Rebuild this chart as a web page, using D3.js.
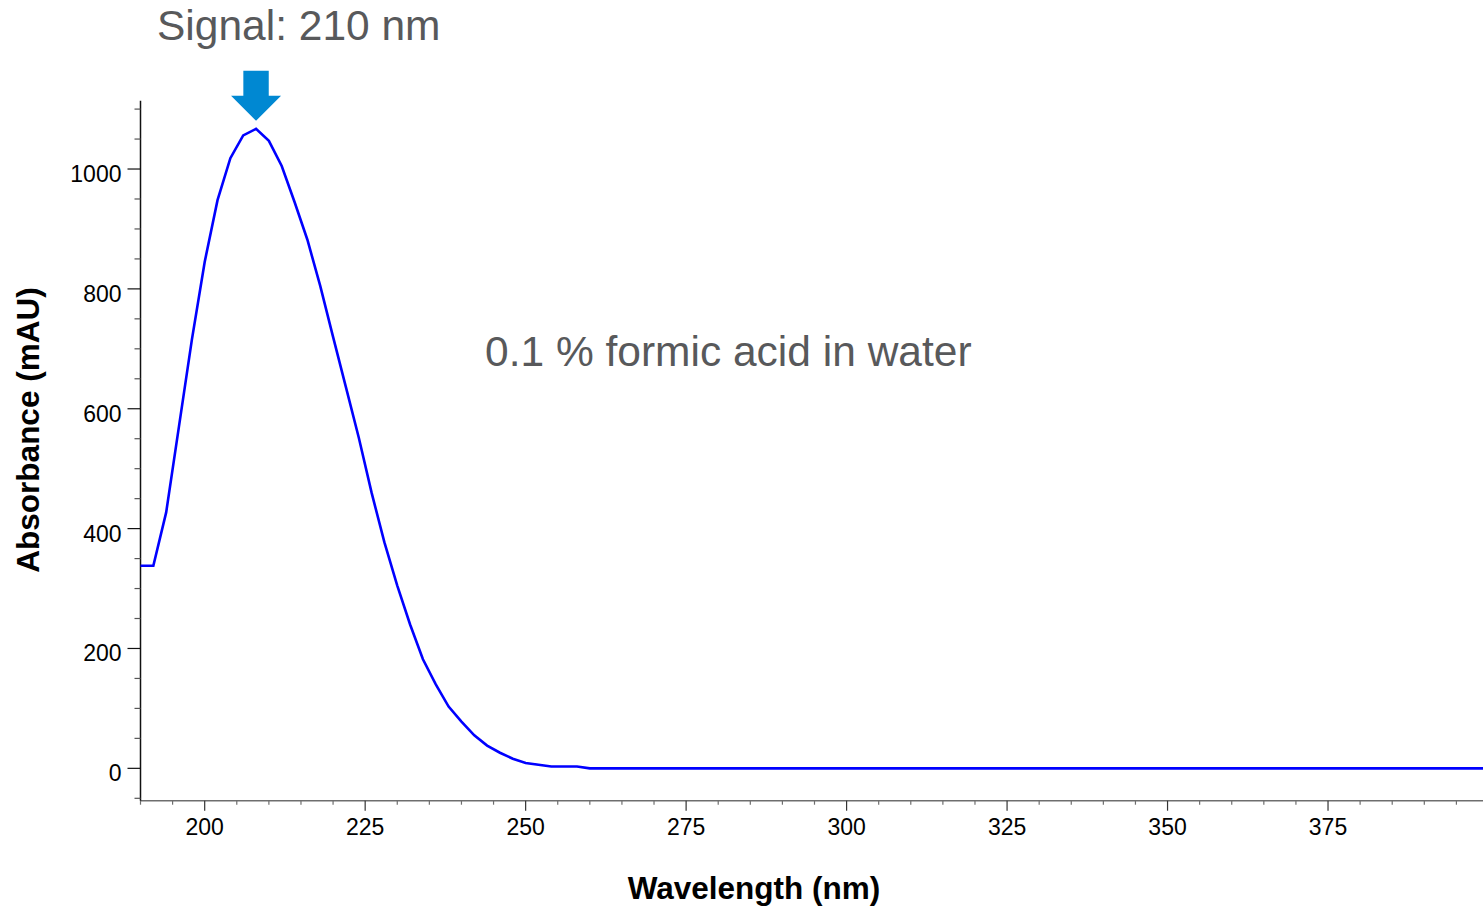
<!DOCTYPE html>
<html>
<head>
<meta charset="utf-8">
<script src="https://cdn.jsdelivr.net/npm/d3@7"></script>
<style>
  html, body { margin: 0; padding: 0; background: #ffffff; }
  svg { display: block; font-family: "Liberation Sans", Arial, sans-serif; }
</style>
</head>
<body>
<svg id="chart" width="1483" height="908"></svg>
<script>
// UV absorbance spectrum of 0.1 % formic acid in water
const wavelengths = [190, 192, 194, 196, 198, 200, 202, 204, 206, 208, 210, 212, 214, 216, 218, 220,
                     222, 224, 226, 228, 230, 232, 234, 236, 238, 240, 242, 244, 246, 248, 250,
                     252, 254, 256, 258, 260, 300, 350, 400];
const absorbance  = [338, 338, 427, 571, 715, 845, 948, 1018, 1056, 1067, 1047, 1005, 945, 882, 805, 720,
                     636, 552, 460, 377, 305, 240, 182, 140, 103, 78, 55, 38, 26, 16, 9,
                     6, 3, 3, 3, 0, 0, 0, 0];

const xMajorTicks = [200, 225, 250, 275, 300, 325, 350, 375];
const yMajorTicks = [0, 200, 400, 600, 800, 1000];

const titleText = "Signal: 210 nm";
const sampleText = "0.1 % formic acid in water";
const xTitle = "Wavelength (nm)";
const yTitle = "Absorbance (mAU)";
const markerWavelength = 208;

const svg = d3.select("#chart");

const x = d3.scaleLinear().domain([190, 400]).range([140.5, 1488.5]);
const y = d3.scaleLinear().domain([-54, 1114]).range([800.7, 100.7]);

const xAxisY = y.range()[0];
const yAxisX = x.range()[0];

// x axis: minor ticks every 5 nm, labelled major ticks every 25 nm
const xMinor = d3.range(190, 401, 5).filter(v => !xMajorTicks.includes(v));
const gx = svg.append("g").attr("transform", `translate(0,${xAxisY})`);
gx.append("line")
  .attr("x1", yAxisX).attr("x2", 1483)
  .attr("stroke", "#6e6e6e").attr("stroke-width", 1.5);
gx.selectAll("line.minor").data(xMinor).join("line")
  .attr("class", "minor")
  .attr("x1", d => x(d)).attr("x2", d => x(d))
  .attr("y1", 0).attr("y2", 4)
  .attr("stroke", "#6e6e6e").attr("stroke-width", 1.2);
gx.selectAll("line.major").data(xMajorTicks).join("line")
  .attr("class", "major")
  .attr("x1", d => x(d)).attr("x2", d => x(d))
  .attr("y1", 0).attr("y2", 10)
  .attr("stroke", "#333").attr("stroke-width", 1.2);
gx.selectAll("text").data(xMajorTicks).join("text")
  .attr("x", d => x(d)).attr("y", 34)
  .attr("text-anchor", "middle")
  .attr("font-size", 23)
  .attr("fill", "#000")
  .text(d => d);

// y axis: minor ticks every 50 mAU, labelled major ticks every 200 mAU
const yMinor = d3.range(-50, 1101, 50).filter(v => !yMajorTicks.includes(v));
const gy = svg.append("g").attr("transform", `translate(${yAxisX},0)`);
gy.append("line")
  .attr("y1", y.range()[1]).attr("y2", xAxisY)
  .attr("stroke", "#111").attr("stroke-width", 1.5);
gy.selectAll("line.minor").data(yMinor).join("line")
  .attr("class", "minor")
  .attr("x1", -6).attr("x2", 0)
  .attr("y1", d => y(d)).attr("y2", d => y(d))
  .attr("stroke", "#555").attr("stroke-width", 1.2);
gy.selectAll("line.major").data(yMajorTicks).join("line")
  .attr("class", "major")
  .attr("x1", -13).attr("x2", 0)
  .attr("y1", d => y(d)).attr("y2", d => y(d))
  .attr("stroke", "#111").attr("stroke-width", 1.2);
gy.selectAll("text").data(yMajorTicks).join("text")
  .attr("x", -19).attr("y", d => y(d) + 13)
  .attr("text-anchor", "end")
  .attr("font-size", 23)
  .attr("fill", "#000")
  .text(d => d);

// axis titles
svg.append("text")
  .attr("x", 754).attr("y", 899)
  .attr("text-anchor", "middle")
  .attr("font-size", 31.5).attr("font-weight", "bold")
  .attr("fill", "#000")
  .text(xTitle);
svg.append("text")
  .attr("transform", "translate(39,430) rotate(-90)")
  .attr("text-anchor", "middle")
  .attr("font-size", 31.5).attr("font-weight", "bold")
  .attr("fill", "#000")
  .text(yTitle);

// spectrum trace
const series = wavelengths.map((w, i) => ({ w, a: absorbance[i] }));
const line = d3.line().x(d => x(d.w)).y(d => y(d.a));
svg.append("path")
  .datum(series)
  .attr("d", line)
  .attr("fill", "none")
  .attr("stroke", "#0000ff")
  .attr("stroke-width", 2.6)
  .attr("stroke-linejoin", "miter");

// marker arrow above the absorbance maximum
const peak = series.find(d => d.w === markerWavelength);
const ax = x(peak.w);
const tipY = y(peak.a) - 8;
const arrowPath = d3.path();
arrowPath.moveTo(ax - 12.7, tipY - 50);
arrowPath.lineTo(ax + 12.7, tipY - 50);
arrowPath.lineTo(ax + 12.7, tipY - 25);
arrowPath.lineTo(ax + 25, tipY - 25);
arrowPath.lineTo(ax, tipY);
arrowPath.lineTo(ax - 25, tipY - 25);
arrowPath.lineTo(ax - 12.7, tipY - 25);
arrowPath.closePath();
svg.append("path")
  .attr("d", arrowPath.toString())
  .attr("fill", "#0088d2");

// annotations
svg.append("text")
  .attr("x", 157).attr("y", 40)
  .attr("font-size", 42.5)
  .attr("fill", "#58595b")
  .text(titleText);
svg.append("text")
  .attr("x", 485).attr("y", 366)
  .attr("font-size", 42.5)
  .attr("fill", "#58595b")
  .text(sampleText);
</script>
</body>
</html>
